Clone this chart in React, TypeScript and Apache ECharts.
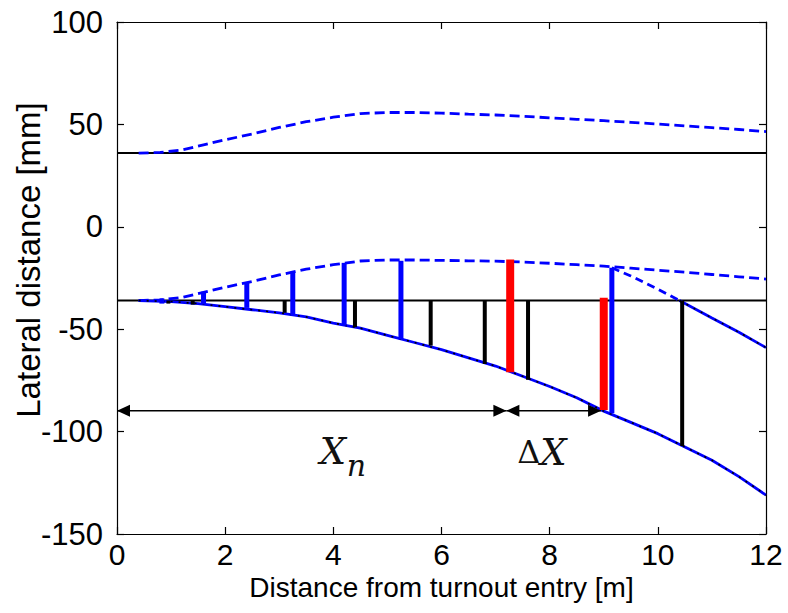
import React, { useEffect, useRef } from "react";
import * as echarts from "echarts";

// ---- data ----
const xTicks = [0, 2, 4, 6, 8, 10, 12];
const yTicks = [-150, -100, -50, 0, 50, 100];
const railLevels = [36, -36];

const topDashed: [number, number][] = [
  [0.4, 36], [0.8, 36.3], [1.2, 37.5], [1.6, 40], [2.0, 42.5], [2.5, 45.3], [3.0, 48.5],
  [3.5, 51.3], [4.0, 53.5], [4.5, 55.3], [5.0, 55.8], [5.5, 55.8], [6.0, 55.5], [6.5, 55],
  [7.0, 54.6], [7.5, 54], [8.0, 53.2], [8.5, 52.5], [9.0, 51.8], [9.5, 51], [10.0, 50.2],
  [10.5, 49.3], [11.0, 48.4], [11.5, 47.5], [12.0, 46.5],
];
const lowerDashed: [number, number][] = [
  [0.4, -36], [0.8, -35.7], [1.2, -34.5], [1.6, -32], [2.0, -29.5], [2.5, -26.7], [3.0, -23.5],
  [3.5, -20.7], [4.0, -18.5], [4.5, -16.7], [5.0, -16.2], [5.5, -16.2], [6.0, -16.4], [6.5, -16.6],
  [7.0, -16.8], [7.5, -17.2], [8.0, -17.8], [8.5, -18.5], [9.0, -19.2], [9.5, -20.2], [10.0, -21.2],
  [10.5, -22.2], [11.0, -23.3], [11.5, -24.4], [12.0, -25.5],
];
const lowerSolid: [number, number][] = [
  [0.4, -36], [1.0, -36.5], [1.5, -37.5], [2.0, -39], [2.5, -40.5], [3.0, -42], [3.5, -44],
  [4.0, -47], [4.5, -49.5], [5.0, -53], [5.5, -56.5], [6.0, -60], [6.5, -64], [7.0, -68],
  [7.5, -73], [8.0, -78], [8.5, -83.5], [9.0, -90], [9.5, -95.5], [10.0, -101], [10.5, -107.5],
  [11.0, -114], [11.5, -122], [12.0, -131],
];
const branchDashed: [number, number][] = [[9.15, -20], [9.5, -24], [10.0, -30.5], [10.4, -36]];
const branchSolid: [number, number][] = [[10.4, -36], [11.0, -44.5], [11.5, -51.5], [12.0, -59]];

// [x, yTop, yBottom]
const blueBars: [number, number, number][] = [
  [0.83, -35, -37.5], [1.6, -31.7, -38], [2.4, -27, -39.6], [3.25, -22, -43.5],
  [4.2, -17.6, -48.3], [5.25, -16.6, -55], [9.15, -20, -91],
];
const blackBars: [number, number, number][] = [
  [0.95, -36, -37.5], [1.4, -36, -38], [3.1, -36, -42], [4.4, -36, -49], [5.8, -36, -58],
  [6.8, -36, -67], [7.6, -36, -74.7], [10.45, -36, -107],
];
const redBars: [number, number, number][] = [[7.27, -16, -71], [9.0, -34.7, -89.4]];

// [xStart, xEnd, y]
const arrows: [number, number, number][] = [[0, 7.2, -89.8], [7.2, 8.95, -89.8]];

// [x, y] of the annotation texts
const xnLabelPos: [number, number] = [3.75, -109.5];
const dxLabelPos: [number, number] = [7.4, -110];

const barSeries = (data: [number, number, number][], color: string, w: number, z: number) => ({
  type: "custom",
  z,
  data,
  encode: { x: 0, y: [1, 2] },
  renderItem: (params: any, api: any) => {
    const x = api.value(0);
    const p0 = api.coord([x, api.value(1)]);
    const p1 = api.coord([x, api.value(2)]);
    return {
      type: "rect",
      shape: { x: p0[0] - w / 2, y: Math.min(p0[1], p1[1]), width: w, height: Math.abs(p1[1] - p0[1]) },
      style: { fill: color },
    };
  },
});

const lineSeries = (data: [number, number][], color: string, width: number, dash: any, z: number) => ({
  type: "line",
  data,
  showSymbol: false,
  symbol: "none",
  z,
  lineStyle: { color, width, type: dash },
});

export default function App() {
  const ref = useRef<HTMLDivElement>(null);
  useEffect(() => {
    document.body.style.margin = "0";
    const chart = echarts.init(ref.current!, null, { renderer: "svg" });
    const axisFont = "Liberation Sans";
    const railData = railLevels.map((lv) => [[0, lv], [12, lv]] as [number, number][]);
    const boxAxis = {
      axisLine: { show: true, onZero: false, lineStyle: { color: "#000", width: 1.2 } },
      axisTick: { inside: true, length: 7, lineStyle: { color: "#000", width: 1.2 } },
      splitLine: { show: false },
    };
    chart.setOption({
      animation: false,
      backgroundColor: "#fff",
      grid: { left: 117, right: 22, top: 22, bottom: 79, containLabel: false, outerBoundsMode: "none" },
      xAxis: [
        {
          type: "value", min: 0, max: 12, interval: 2, position: "bottom",
          name: "Distance from turnout entry [m]", nameLocation: "middle", nameGap: 39,
          nameMoveOverlap: false,
          nameTextStyle: { fontFamily: axisFont, fontSize: 28, color: "#000" },
          ...boxAxis,
          axisLabel: { fontFamily: axisFont, fontSize: 30, color: "#000", margin: 5 },
        },
        {
          type: "value", min: 0, max: 12, interval: 2, position: "top",
          ...boxAxis,
          axisLabel: { show: false },
        },
      ],
      yAxis: [
        {
          type: "value", min: -150, max: 100, interval: 50, position: "left",
          name: "Lateral distance [mm]", nameLocation: "middle", nameGap: 72,
          nameMoveOverlap: false,
          nameTextStyle: { fontFamily: axisFont, fontSize: 33, color: "#000", padding: [0, 0, 0, 36] },
          ...boxAxis,
          axisLabel: { fontFamily: axisFont, fontSize: 31, color: "#000", margin: 14 },
        },
        {
          type: "value", min: -150, max: 100, interval: 50, position: "right",
          ...boxAxis,
          axisLabel: { show: false },
        },
      ],
      series: [
        ...railData.map((d) => lineSeries(d, "#000", 2, "solid", 2)),
        lineSeries(topDashed, "#0000ff", 2.8, [10, 5], 3),
        lineSeries(lowerDashed, "#0000ff", 2.8, [10, 5], 3),
        lineSeries(branchDashed, "#0000ff", 2.8, [8, 5], 3),
        lineSeries(lowerSolid, "#0000ff", 2.8, "solid", 3),
        lineSeries(branchSolid, "#0000ff", 2.8, "solid", 3),
        lineSeries(lowerSolid, "#000", 1.6, [2, 6], 4),
        lineSeries(branchSolid, "#000", 1.6, [2, 6], 4),
        barSeries(blackBars, "#000", 4, 5),
        barSeries(blueBars, "#0000ff", 5, 6),
        barSeries(redBars, "#ff0000", 8, 6),
        {
          type: "custom",
          z: 7,
          data: arrows,
          encode: { x: [0, 1], y: 2 },
          renderItem: (params: any, api: any) => {
            const p0 = api.coord([api.value(0), api.value(2)]);
            const p1 = api.coord([api.value(1), api.value(2)]);
            const L = 13, H = 12;
            return {
              type: "group",
              children: [
                { type: "line", shape: { x1: p0[0], y1: p0[1], x2: p1[0], y2: p1[1] }, style: { stroke: "#000", lineWidth: 1.5 } },
                { type: "polygon", shape: { points: [[p0[0], p0[1]], [p0[0] + L, p0[1] - H / 2], [p0[0] + L, p0[1] + H / 2]] }, style: { fill: "#000" } },
                { type: "polygon", shape: { points: [[p1[0], p1[1]], [p1[0] - L, p1[1] - H / 2], [p1[0] - L, p1[1] + H / 2]] }, style: { fill: "#000" } },
              ],
            };
          },
        },
        {
          type: "custom",
          z: 8,
          data: [xnLabelPos],
          encode: { x: 0, y: 1 },
          renderItem: (params: any, api: any) => {
            const p = api.coord([api.value(0), api.value(1)]);
            return {
              type: "group",
              children: [
                { type: "text", x: p[0], y: p[1], style: { text: "X", fontFamily: "DejaVu Serif", fontStyle: "italic", fontSize: 37, fill: "#111", align: "left", verticalAlign: "middle" } },
                { type: "text", x: p[0] + 27, y: p[1] + 14, style: { text: "n", fontFamily: "DejaVu Serif", fontStyle: "italic", fontSize: 30, fill: "#111", align: "left", verticalAlign: "middle" } },
              ],
            };
          },
        },
        {
          type: "custom",
          z: 8,
          data: [dxLabelPos],
          encode: { x: 0, y: 1 },
          renderItem: (params: any, api: any) => {
            const p = api.coord([api.value(0), api.value(1)]);
            return {
              type: "group",
              children: [
                { type: "text", x: p[0], y: p[1], style: { text: "Δ", fontFamily: "DejaVu Serif", fontSize: 32, fill: "#111", align: "left", verticalAlign: "middle" } },
                { type: "text", x: p[0] + 23, y: p[1], style: { text: "X", fontFamily: "DejaVu Serif", fontStyle: "italic", fontSize: 37, fill: "#111", align: "left", verticalAlign: "middle" } },
              ],
            };
          },
        },
      ],
    });
    return () => chart.dispose();
  }, []);
  return <div ref={ref} style={{ width: 788, height: 613 }} />;
}
